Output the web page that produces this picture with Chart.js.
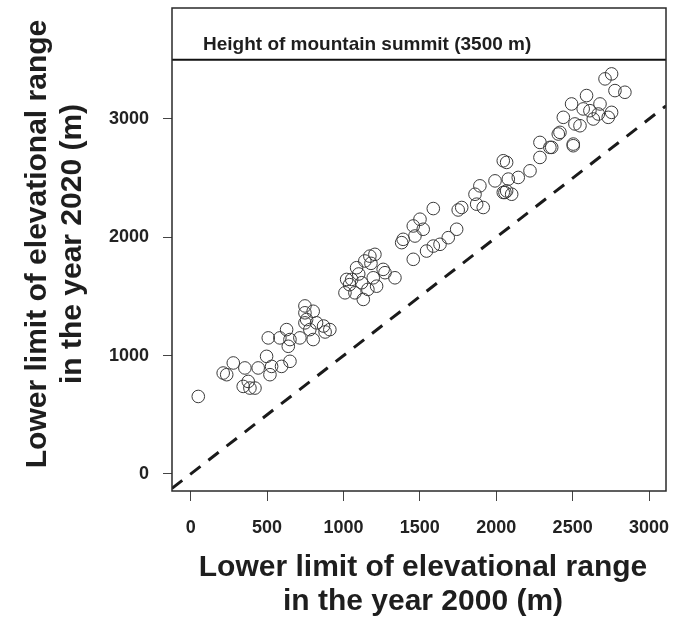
<!DOCTYPE html>
<html>
<head>
<meta charset="utf-8">
<script src="https://cdn.jsdelivr.net/npm/chart.js@4/dist/chart.umd.min.js"></script>
<style>
html,body{margin:0;padding:0;background:#fff;}
#wrap{width:680px;height:617px;position:relative;}
</style>
</head>
<body>
<div id="wrap"><canvas id="c" width="680" height="617"></canvas></div>
<script>
// ---- data ----
const xTicks = [0, 500, 1000, 1500, 2000, 2500, 3000];
const yTicks = [0, 1000, 2000, 3000];
const summitHeight = 3500;
const summitLabel = 'Height of mountain summit (3500 m)';
const xTitle = ['Lower limit of elevational range', 'in the year 2000 (m)'];
const yTitle = ['Lower limit of elevational range', 'in the year 2020 (m)'];
const lower2000 = [50, 213, 236, 279, 355, 344, 377, 421, 388, 442, 497, 519, 508, 530, 584, 628, 639, 595, 650, 715,
  748, 748, 748, 802, 759, 824, 802, 911, 650, 880, 870, 780, 1173, 1206, 1086, 1021, 1054, 1119, 1010, 1075,
  1130, 1195, 1217, 1272, 1337, 1381, 1140, 1180, 1100, 1160, 1040, 1588, 1751, 1501, 1457, 1522, 1468, 1391, 1741, 1686,
  1632, 1588, 1544, 1457, 1861, 1893, 1992, 1872, 1915, 2057, 1260, 2046, 2068, 2079, 2144, 2221, 2286, 2363, 2286, 2417,
  2504, 2515, 2068, 2101, 2046, 1774, 2712, 2755, 2777, 2842, 2493, 2591, 2679, 2569, 2613, 2635, 2548, 2668, 2733, 2755,
  2439, 2406, 2504, 2351];
const lower2020 = [655, 853, 839, 938, 896, 740, 782, 726, 726, 896, 994, 839, 1150, 909, 1150, 1220, 1079, 909, 952, 1150,
  1362, 1277, 1420, 1375, 1305, 1277, 1136, 1220, 1136, 1200, 1250, 1220, 1841, 1856, 1743, 1644, 1644, 1616, 1531, 1531,
  1475, 1658, 1587, 1701, 1658, 1955, 1800, 1780, 1690, 1560, 1600, 2243, 2231, 2153, 2096, 2068, 2011, 1983, 2068, 1997,
  1941, 1926, 1884, 1814, 2364, 2435, 2477, 2280, 2252, 2379, 1729, 2647, 2633, 2492, 2506, 2562, 2802, 2760, 2675, 2887,
  2788, 2958, 2392, 2364, 2379, 2252, 3339, 3381, 3240, 3226, 3127, 3198, 3127, 3085, 3070, 3000, 2943, 3042, 3014, 3056,
  3014, 2873, 2774, 2760];
const xRange = [-122, 3111];
const yRange = [-144, 3938];

// ---- chart ----
const ink = '#2a2a2a';
const points = lower2000.map((v, i) => ({x: v, y: lower2020[i]}));
const summitLine = xRange.map(v => ({x: v, y: summitHeight}));
const oneToOne = xRange.map(v => ({x: v, y: v}));

function noPad(s) { s.paddingTop = 0; s.paddingBottom = 0; s.paddingLeft = 0; s.paddingRight = 0; }

const decor = {
  id: 'decor',
  afterDraw(chart) {
    const {ctx, chartArea: a, scales} = chart;
    ctx.save();
    ctx.strokeStyle = ink;
    ctx.lineWidth = 1.5;
    ctx.strokeRect(a.left, a.top, a.right - a.left, a.bottom - a.top);
    ctx.fillStyle = '#1e1e1e';
    // summit label
    ctx.font = 'bold 19px "Liberation Sans", Arial, sans-serif';
    ctx.textBaseline = 'alphabetic';
    ctx.textAlign = 'left';
    ctx.fillText(summitLabel, a.left + 31, scales.y.getPixelForValue(summitHeight) - 10);
    // titles
    ctx.font = 'bold 30px "Liberation Sans", Arial, sans-serif';
    ctx.textAlign = 'center';
    const cx = 423;
    ctx.fillText(xTitle[0], cx, 576);
    ctx.fillText(xTitle[1], cx, 610);
    ctx.save();
    ctx.translate(46, 244);
    ctx.rotate(-Math.PI / 2);
    ctx.fillText(yTitle[0], 0, 0);
    ctx.fillText(yTitle[1], 0, 35);
    ctx.restore();
    ctx.restore();
  }
};

new Chart(document.getElementById('c'), {
  type: 'scatter',
  data: {
    datasets: [
      {
        data: points,
        pointRadius: 6.3,
        pointHoverRadius: 6.3,
        pointBorderWidth: 1,
        pointBorderColor: '#3a3a3a',
        pointBackgroundColor: 'rgba(0,0,0,0)'
      },
      {
        type: 'line',
        data: summitLine,
        borderColor: '#111',
        borderWidth: 2,
        pointRadius: 0
      },
      {
        type: 'line',
        data: oneToOne,
        borderColor: '#1a1a1a',
        borderWidth: 3,
        borderDash: [13, 10],
        pointRadius: 0
      }
    ]
  },
  options: {
    responsive: false,
    animation: false,
    events: [],
    layout: {padding: {left: 0, right: 14, top: 8, bottom: 0}},
    plugins: {legend: {display: false}, tooltip: {enabled: false}},
    scales: {
      x: {
        type: 'linear',
        min: xRange[0],
        max: xRange[1],
        afterBuildTicks(s) { s.ticks = xTicks.map(v => ({value: v})); },
        afterFit(s) { s.height = 126; noPad(s); },
        grid: {drawOnChartArea: false, drawTicks: true, tickLength: 10, tickColor: '#444', tickWidth: 1},
        border: {display: false},
        ticks: {
          autoSkip: false,
          maxRotation: 0,
          padding: 16,
          color: '#222',
          font: {family: '"Liberation Sans", Arial, sans-serif', size: 18, weight: 'bold'},
          callback: v => String(v)
        }
      },
      y: {
        type: 'linear',
        min: yRange[0],
        max: yRange[1],
        afterBuildTicks(s) { s.ticks = yTicks.map(v => ({value: v})); },
        afterFit(s) { s.width = 172; noPad(s); },
        grid: {drawOnChartArea: false, drawTicks: true, tickLength: 9, tickColor: '#444', tickWidth: 1},
        border: {display: false},
        ticks: {
          autoSkip: false,
          padding: 14,
          color: '#222',
          font: {family: '"Liberation Sans", Arial, sans-serif', size: 18, weight: 'bold'},
          callback: v => String(v)
        }
      }
    }
  },
  plugins: [decor]
});
</script>
</body>
</html>
